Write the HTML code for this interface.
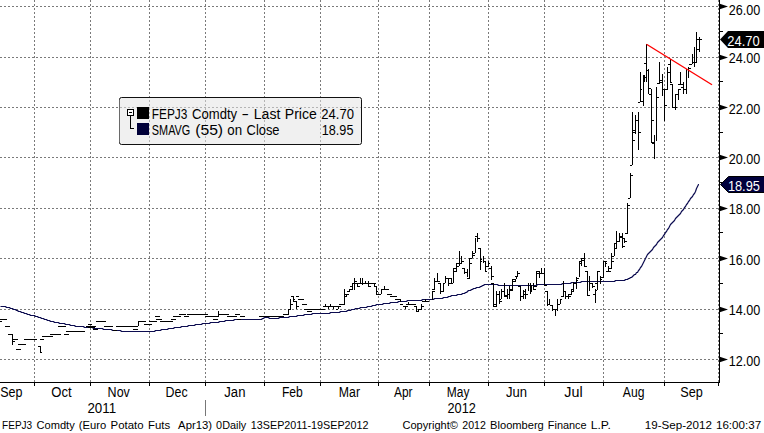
<!DOCTYPE html>
<html><head><meta charset="utf-8"><style>
html,body{margin:0;padding:0;background:#fff;}
body{width:764px;height:433px;overflow:hidden;position:relative;font-family:"Liberation Sans",sans-serif;}
svg{position:absolute;left:0;top:0;}
text{font-family:"Liberation Sans",sans-serif;}
</style></head><body>
<svg width="764" height="433" viewBox="0 0 764 433">
<path d="M0 6.5H718M0 57.5H718M0 107.5H718M0 157.5H718M0 208.5H718M0 258.5H718M0 309.5H718M0 359.5H718M34.5 0V382M90.5 0V382M149.5 0V382M205.5 0V382M264.5 0V382M320.5 0V382M378.5 0V382M429.5 0V382M488.5 0V382M544.5 0V382M603.5 0V382M664.5 0V382M718.5 0V382" stroke="#7a7a7a" stroke-width="1" stroke-dasharray="2 2" fill="none" shape-rendering="crispEdges"/>
<rect x="119.5" y="97.5" width="242" height="47" rx="2" fill="rgba(228,228,228,0.55)" stroke="#111" stroke-width="1"/>
<path d="M119.5 100V142" stroke="#6a6a6a" stroke-width="1" shape-rendering="crispEdges"/>
<path d="M0.5 306.5 L5.5 306.5 L6.5 307.5 L9.5 307.5 L10.5 308.5 L12.5 308.5 L13.5 309.5 L15.5 309.5 L16.5 310.5 L17.5 310.5 L18.5 311.5 L20.5 311.5 L21.5 312.5 L23.5 312.5 L24.5 313.5 L26.5 313.5 L27.5 314.5 L29.5 314.5 L30.5 315.5 L34.5 315.5 L35.5 316.5 L37.5 316.5 L38.5 317.5 L40.5 317.5 L41.5 318.5 L43.5 318.5 L44.5 319.5 L46.5 319.5 L47.5 320.5 L49.5 320.5 L50.5 321.5 L53.5 321.5 L54.5 322.5 L58.5 322.5 L59.5 323.5 L64.5 323.5 L65.5 324.5 L69.5 324.5 L70.5 325.5 L74.5 325.5 L75.5 326.5 L83.5 326.5 L84.5 327.5 L92.5 327.5 L93.5 328.5 L102.5 328.5 L103.5 329.5 L111.5 329.5 L112.5 330.5 L120.5 330.5 L121.5 331.5 L154.5 331.5 L155.5 330.5 L160.5 330.5 L161.5 329.5 L167.5 329.5 L168.5 328.5 L173.5 328.5 L174.5 327.5 L180.5 327.5 L181.5 326.5 L187.5 326.5 L188.5 325.5 L194.5 325.5 L195.5 324.5 L201.5 324.5 L202.5 323.5 L209.5 323.5 L210.5 322.5 L218.5 322.5 L219.5 321.5 L224.5 321.5 L225.5 320.5 L233.5 320.5 L234.5 319.5 L261.5 319.5 L262.5 318.5 L263.5 318.5 L264.5 317.5 L268.5 317.5 L269.5 318.5 L278.5 318.5 L279.5 317.5 L288.5 317.5 L289.5 316.5 L296.5 316.5 L297.5 315.5 L303.5 315.5 L304.5 314.5 L311.5 314.5 L312.5 313.5 L329.5 313.5 L330.5 312.5 L339.5 312.5 L340.5 311.5 L346.5 311.5 L347.5 310.5 L350.5 310.5 L351.5 309.5 L354.5 309.5 L355.5 308.5 L359.5 308.5 L360.5 307.5 L366.5 307.5 L367.5 306.5 L371.5 306.5 L372.5 305.5 L375.5 305.5 L376.5 304.5 L382.5 304.5 L383.5 303.5 L389.5 303.5 L390.5 302.5 L397.5 302.5 L398.5 301.5 L406.5 301.5 L407.5 300.5 L421.5 300.5 L422.5 299.5 L433.5 299.5 L434.5 298.5 L442.5 298.5 L443.5 297.5 L447.5 297.5 L448.5 296.5 L450.5 296.5 L451.5 295.5 L456.5 295.5 L457.5 294.5 L461.5 294.5 L462.5 293.5 L464.5 293.5 L465.5 292.5 L466.5 292.5 L467.5 291.5 L468.5 290.5 L470.5 290.5 L471.5 289.5 L472.5 289.5 L473.5 288.5 L475.5 288.5 L476.5 287.5 L479.5 287.5 L480.5 286.5 L481.5 286.5 L482.5 285.5 L483.5 285.5 L484.5 284.5 L497.5 284.5 L498.5 285.5 L536.5 285.5 L537.5 284.5 L561.5 284.5 L562.5 283.5 L570.5 283.5 L571.5 282.5 L580.5 282.5 L581.5 281.5 L614.5 281.5 L615.5 280.5 L624.5 280.5 L625.5 279.5 L627.5 279.5 L628.5 278.5 L629.5 278.5 L630.5 277.5 L631.5 277.5 L632.5 276.5 L633.5 275.5 L634.5 274.5 L635.5 274.5 L636.5 272.5 L637.5 272.5 L638.5 270.5 L639.5 269.5 L640.5 267.5 L641.5 266.5 L642.5 264.5 L643.5 262.5 L644.5 260.5 L645.5 258.5 L646.5 256.5 L647.5 254.5 L648.5 253.5 L649.5 252.5 L650.5 251.5 L651.5 250.5 L652.5 249.5 L653.5 247.5 L654.5 246.5 L655.5 245.5 L656.5 244.5 L657.5 242.5 L658.5 241.5 L659.5 240.5 L660.5 239.5 L661.5 238.5 L662.5 237.5 L663.5 235.5 L664.5 234.5 L665.5 232.5 L666.5 231.5 L667.5 229.5 L668.5 228.5 L669.5 226.5 L670.5 224.5 L671.5 223.5 L672.5 222.5 L673.5 221.5 L674.5 220.5 L675.5 218.5 L676.5 217.5 L677.5 216.5 L678.5 215.5 L679.5 214.5 L680.5 213.5 L681.5 211.5 L682.5 210.5 L683.5 209.5 L684.5 207.5 L685.5 206.5 L686.5 204.5 L687.5 203.5 L688.5 201.5 L689.5 200.5 L690.5 198.5 L691.5 197.5 L692.5 196.5 L693.5 194.5 L694.5 193.5 L695.5 191.5 L696.5 188.5 L697.5 186.5 L698.5 184.5 L699 184.5" stroke="#0c0c50" stroke-width="1.2" fill="none" stroke-linejoin="round"/>
<path d="M0 319.5H7M0 321.5H2M5 326.5H10M8 334.5H12M12.5 334V345M12 339.5H18M12 341.5H15M18 344.5H26M16 349.5H21M24 339.5H37M38 346.5H40M40.5 346V352M40 352.5H42M40 339.5H44M42 336.5H53M50 334.5H61M64 334.5H69M58 326.5H66M66 331.5H85M88 324.5H92M86 326.5H96M88 327.5H95M93 329.5H98M96 321.5H106M104 326.5H113M113 330.5H117M116 326.5H138M138.5 321V326M138 321.5H146M133 329.5H138M144 324.5H152M149 321.5H157M156 319.5H162M155 316.5H160M160 321.5H173M171 319.5H176M173 316.5H181M179 314.5H186M184 316.5H189M187 314.5H208M205 316.5H215M213 319.5H218M210 316.5H219M218.5 311V316M218 314.5H229M227 316.5H237M235 314.5H240M240 316.5H245M237 319.5H241M259 316.5H284M283 314.5H289M288.5 309V314M288 309.5H290M290.5 299V310M290 304.5H293M291 296.5H293M293.5 296V301M293 301.5H296M296 296.5H299M296.5 301V309M296 306.5H299M293 299.5H295M298 299.5H304M302 304.5H307M304 309.5H325M307 311.5H312M323 306.5H325M320 309.5H325M323 306.5H341M325.5 304V306M328.5 306V309M330.5 304V306M333.5 306V309M338.5 306V309M336 309.5H338M339 304.5H345M344.5 289V304M344 294.5H349M345 296.5H347M346.5 294V296M347 291.5H350M349.5 289V291M349 289.5H353M350 286.5H353M352.5 283V290M354.5 278V290M354 281.5H357M352 283.5H376M357.5 283V286M357 286.5H360M360.5 278V283M362.5 278V285M365.5 281V283M368.5 281V286M368 286.5H371M374.5 283V286M374 286.5H376M376.5 286V294M376 294.5H381M376 291.5H378M381.5 289V294M381 289.5H384M384.5 286V289M384 289.5H389M387 294.5H392M390 296.5H397M395 299.5H400M400.5 299V302M400 304.5H403M403 306.5H408M405.5 306V309M408.5 302V304M406 304.5H416M414 306.5H417M416.5 306V311M416 311.5H419M418.5 309V311M419 309.5H422M421 306.5H424M421.5 304V309M422 301.5H429M425.5 299V301M432.5 291V300M432 291.5H435M432 289.5H435M434.5 278V289M434 281.5H437M437.5 273V282M437 281.5H440M438 283.5H441M440.5 283V294M440 291.5H444M443.5 283V291M443 283.5H445M445.5 276V283M445 278.5H451M448.5 278V286M448 283.5H453M451.5 278V283M451 283.5H453M453.5 268V283M453 268.5H456M453 271.5H456M456.5 264V272M456 263.5H459M456 266.5H459M459.5 251V266M461.5 256V264M461 261.5H464M459 263.5H461M462 268.5H464M464.5 268V274M464 272.5H468M467.5 269V277M469.5 258V279M467 278.5H469M469 258.5H472M469 263.5H472M472.5 251V258M472 255.5H475M475.5 238V253M472 253.5H475M475 236.5H477M477.5 233V242M477 238.5H480M478 248.5H481M480.5 248V270M480 259.5H482M480 261.5H482M483.5 256V263M483 261.5H486M485 266.5H488M489 268.5H491M485.5 261V271M485 271.5H487M488.5 261V267M488 263.5H490M491.5 266V280M491 276.5H494M493.5 283V306M491 283.5H493M493 306.5H497M494 304.5H496M496.5 291V306M496 294.5H499M499.5 291V304M499 301.5H502M499 299.5H501M501.5 289V299M501 291.5H504M504.5 283V297M504 296.5H507M504 295.5H507M507.5 289V299M507 294.5H509M509.5 286V299M509 290.5H512M509 289.5H512M512.5 279V291M512 279.5H516M512 281.5H516M515.5 279V281M516.5 276V279M515 276.5H516M517.5 271V277M517 273.5H520M518 286.5H521M520.5 286V301M520 296.5H523M523.5 290V299M523 294.5H525M525.5 289V299M523 291.5H525M525 294.5H528M528.5 283V291M530.5 283V294M530 289.5H532M531.5 285V292M533.5 283V290M533 289.5H536M534 286.5H537M536.5 271V285M536 271.5H540M539.5 272V278M536 273.5H544M541.5 268V273M544.5 268V285M544 285.5H547M545 291.5H547M547.5 291V306M547 304.5H550M549.5 299V305M550 305.5H552M552.5 305V311M552 309.5H555M555.5 309V316M555 309.5H558M557.5 299V311M558 304.5H560M560.5 299V304M560 299.5H562M561 296.5H563M563.5 281V297M563 291.5H565M565.5 291V299M565 296.5H571M568.5 294V299M568 294.5H571M571.5 289V295M571 289.5H573M571 291.5H573M573.5 282V292M573 283.5H576M576.5 277V289M576 278.5H579M576 280.5H578M579.5 261V277M579 261.5H581M579 263.5H581M581.5 258V266M581 258.5H584M581 260.5H584M584.5 253V267M584 266.5H587M585 271.5H588M587.5 271V295M587 295.5H590M589.5 276V291M589 283.5H592M592.5 283V288M592 286.5H595M595.5 289V303M593 294.5H595M595 290.5H597M597.5 271V290M597 271.5H600M595 283.5H597M600.5 276V284M600 277.5H603M600 279.5H602M603.5 261V278M604 261.5H607M605.5 261V267M605 263.5H607M608.5 266V272M606 271.5H611M609 268.5H612M611.5 253V268M611 261.5H614M614.5 243V256M611 256.5H614M614 243.5H617M614 248.5H617M616.5 231V249M616 241.5H620M619.5 233V242M619 236.5H622M619 237.5H622M622.5 233V248M622 238.5H625M622 246.5H625M624.5 238V243M624 241.5H627M625 233.5H628M627.5 203V234M627 205.5H630M630.5 173V198M628 198.5H630M630 175.5H633M632.5 112V165M630 165.5H632M632 132.5H635M632 140.5H635M635.5 115V134M635 120.5H638M633 130.5H635M638.5 112V150M638 132.5H641M636 120.5H638M640.5 72V102M638 102.5H640M640 89.5H642M643.5 75V106M641 101.5H643M644 77.5H646M644.5 75V82M644 63.5H646M646.5 44V82M646 70.5H649M648.5 69V94M648 88.5H651M651.5 89V142M649 94.5H651M651 120.5H654M651 142.5H654M654.5 135V159M652 143.5H654M656.5 87V141M656 97.5H659M659.5 62V84M657 83.5H659M659 80.5H662M659 82.5H662M662.5 74V96M662 89.5H667M664.5 89V121M664 105.5H667M667.5 67V90M667 72.5H670M670.5 59V83M668 64.5H670M672.5 84V107M670 82.5H672M670 84.5H672M672 107.5H677M675.5 94V110M675 94.5H678M678.5 89V100M678 89.5H681M680.5 72V85M678 84.5H683M683.5 82V94M681 87.5H683M683 89.5H686M686.5 69V94M688.5 67V78M688 68.5H691M689 64.5H692M692.5 54V64M692 62.5H697M694.5 47V67M696.5 32V63M696 49.5H699M699.5 37V52M697 39.5H702" stroke="#000" stroke-width="1" fill="none" shape-rendering="crispEdges"/>
<line x1="646.5" y1="44.3" x2="712" y2="84.8" stroke="#ff0000" stroke-width="1.35"/>
<!-- axes -->
<path d="M0 382.5H720M719.5 0V383" stroke="#000" stroke-width="1" fill="none" shape-rendering="crispEdges"/>
<path d="M34.5 382V386M90.5 382V386M149.5 382V386M205.5 382V386M264.5 382V386M320.5 382V386M378.5 382V386M429.5 382V386M488.5 382V386M544.5 382V386M603.5 382V386M664.5 382V386M718.5 382V386" stroke="#000" stroke-width="1" shape-rendering="crispEdges"/>
<path d="M205.5 400V416" stroke="#777" stroke-width="1" shape-rendering="crispEdges"/>
<path d="M719 3.5L728 6.5L719 9.5Z" fill="#000"/>
<path d="M719 54.5L728 57.5L719 60.5Z" fill="#000"/>
<path d="M719 104.5L728 107.5L719 110.5Z" fill="#000"/>
<path d="M719 154.5L728 157.5L719 160.5Z" fill="#000"/>
<path d="M719 205.5L728 208.5L719 211.5Z" fill="#000"/>
<path d="M719 255.5L728 258.5L719 261.5Z" fill="#000"/>
<path d="M719 306.5L728 309.5L719 312.5Z" fill="#000"/>
<path d="M719 356.5L728 359.5L719 362.5Z" fill="#000"/>
<path d="M719 31.5H723M719 81.5H723M719 132.5H723M719 182.5H723M719 232.5H723M719 283.5H723M719 333.5H723" stroke="#000" shape-rendering="crispEdges"/>
<!-- legend -->
<g shape-rendering="crispEdges">
<rect x="127.5" y="109.5" width="6" height="6" fill="#fff" stroke="#000"/>
<path d="M129 112.5H132M130.5 116V128.5H134" stroke="#000" fill="none"/>
<rect x="137" y="107" width="12" height="12" fill="#000"/>
<rect x="137" y="123" width="12" height="12" fill="#000038"/>
</g>
<!-- value tags -->
<path d="M720 39.5L728 31H764V48H728Z" fill="#000"/>
<path d="M720.5 184.5L728.5 176.5H765V192.5H728.5Z" fill="#00003c" stroke="#000" stroke-width="1"/>
<text x="728.8" y="15" font-size="14" fill="#000" textLength="31.54" lengthAdjust="spacingAndGlyphs">26.00</text>
<text x="728.8" y="63" font-size="14" fill="#000" textLength="31.54" lengthAdjust="spacingAndGlyphs">24.00</text>
<text x="728.8" y="114" font-size="14" fill="#000" textLength="31.54" lengthAdjust="spacingAndGlyphs">22.00</text>
<text x="728.8" y="164" font-size="14" fill="#000" textLength="31.54" lengthAdjust="spacingAndGlyphs">20.00</text>
<text x="728.8" y="214" font-size="14" fill="#000" textLength="31.54" lengthAdjust="spacingAndGlyphs">18.00</text>
<text x="728.8" y="265" font-size="14" fill="#000" textLength="31.54" lengthAdjust="spacingAndGlyphs">16.00</text>
<text x="728.8" y="315" font-size="14" fill="#000" textLength="31.54" lengthAdjust="spacingAndGlyphs">14.00</text>
<text x="728.8" y="366" font-size="14" fill="#000" textLength="31.54" lengthAdjust="spacingAndGlyphs">12.00</text>
<text x="727.28" y="46" font-size="14" fill="#fff" textLength="32.37" lengthAdjust="spacingAndGlyphs">24.70</text>
<text x="727.89" y="191" font-size="14" fill="#fff" textLength="32.06" lengthAdjust="spacingAndGlyphs">18.95</text>
<text x="0.31" y="397" font-size="14" fill="#000" textLength="22.21" lengthAdjust="spacingAndGlyphs">Sep</text>
<text x="51.27" y="397" font-size="14" fill="#000" textLength="20.33" lengthAdjust="spacingAndGlyphs">Oct</text>
<text x="107.61" y="397" font-size="14" fill="#000" textLength="22.21" lengthAdjust="spacingAndGlyphs">Nov</text>
<text x="165.62" y="397" font-size="14" fill="#000" textLength="22.0" lengthAdjust="spacingAndGlyphs">Dec</text>
<text x="224.3" y="397" font-size="14" fill="#000" textLength="21.14" lengthAdjust="spacingAndGlyphs">Jan</text>
<text x="281.93" y="397" font-size="14" fill="#000" textLength="20.87" lengthAdjust="spacingAndGlyphs">Feb</text>
<text x="338.82" y="397" font-size="14" fill="#000" textLength="21.19" lengthAdjust="spacingAndGlyphs">Mar</text>
<text x="394.0" y="397" font-size="14" fill="#000" textLength="18.53" lengthAdjust="spacingAndGlyphs">Apr</text>
<text x="446.85" y="397" font-size="14" fill="#000" textLength="22.59" lengthAdjust="spacingAndGlyphs">May</text>
<text x="505.9" y="397" font-size="14" fill="#000" textLength="21.04" lengthAdjust="spacingAndGlyphs">Jun</text>
<text x="564.3" y="397" font-size="14" fill="#000" textLength="18.33" lengthAdjust="spacingAndGlyphs">Jul</text>
<text x="622.8" y="397" font-size="14" fill="#000" textLength="21.6" lengthAdjust="spacingAndGlyphs">Aug</text>
<text x="680.3" y="397" font-size="14" fill="#000" textLength="22.54" lengthAdjust="spacingAndGlyphs">Sep</text>
<text x="87.45" y="413" font-size="14" fill="#000" textLength="28.66" lengthAdjust="spacingAndGlyphs">2011</text>
<text x="447.49" y="413" font-size="14" fill="#000" textLength="28.35" lengthAdjust="spacingAndGlyphs">2012</text>
<text x="151.75" y="119" font-size="14" fill="#000" textLength="35.56" lengthAdjust="spacingAndGlyphs">FEPJ3</text>
<text x="192.07" y="119" font-size="14" fill="#000" textLength="45.05" lengthAdjust="spacingAndGlyphs">Comdty</text>
<text x="241.5" y="119" font-size="14" fill="#000" textLength="7.48" lengthAdjust="spacingAndGlyphs">-</text>
<text x="253.8" y="119" font-size="14" fill="#000" textLength="26.57" lengthAdjust="spacingAndGlyphs">Last</text>
<text x="284.8" y="119" font-size="14" fill="#000" textLength="32.01" lengthAdjust="spacingAndGlyphs">Price</text>
<text x="151.82" y="135" font-size="14" fill="#000" textLength="38.49" lengthAdjust="spacingAndGlyphs">SMAVG</text>
<text x="195.18" y="135" font-size="14" fill="#000" textLength="27.94" lengthAdjust="spacingAndGlyphs">(55)</text>
<text x="227.35" y="135" font-size="14" fill="#000" textLength="14.8" lengthAdjust="spacingAndGlyphs">on</text>
<text x="246.58" y="135" font-size="14" fill="#000" textLength="32.95" lengthAdjust="spacingAndGlyphs">Close</text>
<text x="321.27" y="119" font-size="14" fill="#000" textLength="32.68" lengthAdjust="spacingAndGlyphs">24.70</text>
<text x="321.8" y="135" font-size="14" fill="#000" textLength="31.65" lengthAdjust="spacingAndGlyphs">18.95</text>
<text x="2.09" y="429" font-size="11" fill="#000" textLength="30.13" lengthAdjust="spacingAndGlyphs">FEPJ3</text>
<text x="36.49" y="429" font-size="11" fill="#000" textLength="38.21" lengthAdjust="spacingAndGlyphs">Comdty</text>
<text x="78.88" y="429" font-size="11" fill="#000" textLength="27.42" lengthAdjust="spacingAndGlyphs">(Euro</text>
<text x="110.56" y="429" font-size="11" fill="#000" textLength="32.94" lengthAdjust="spacingAndGlyphs">Potato</text>
<text x="147.96" y="429" font-size="11" fill="#000" textLength="22.16" lengthAdjust="spacingAndGlyphs">Futs</text>
<text x="178.1" y="429" font-size="11" fill="#000" textLength="33.96" lengthAdjust="spacingAndGlyphs">Apr13)</text>
<text x="216.1" y="429" font-size="11" fill="#000" textLength="30.18" lengthAdjust="spacingAndGlyphs">0Daily</text>
<text x="250.82" y="429" font-size="11" fill="#000" textLength="117.75" lengthAdjust="spacingAndGlyphs">13SEP2011-19SEP2012</text>
<text x="402.5" y="429" font-size="11" fill="#000" textLength="55.39" lengthAdjust="spacingAndGlyphs">Copyright©</text>
<text x="462.3" y="429" font-size="11" fill="#000" textLength="23.57" lengthAdjust="spacingAndGlyphs">2012</text>
<text x="490.09" y="429" font-size="11" fill="#000" textLength="53.71" lengthAdjust="spacingAndGlyphs">Bloomberg</text>
<text x="547.81" y="429" font-size="11" fill="#000" textLength="38.83" lengthAdjust="spacingAndGlyphs">Finance</text>
<text x="590.69" y="429" font-size="11" fill="#000" textLength="20.09" lengthAdjust="spacingAndGlyphs">L.P.</text>
<text x="644.75" y="429" font-size="11" fill="#000" textLength="67.1" lengthAdjust="spacingAndGlyphs">19-Sep-2012</text>
<text x="715.95" y="429" font-size="11" fill="#000" textLength="45.17" lengthAdjust="spacingAndGlyphs">16:00:37</text>
</svg>
</body></html>
